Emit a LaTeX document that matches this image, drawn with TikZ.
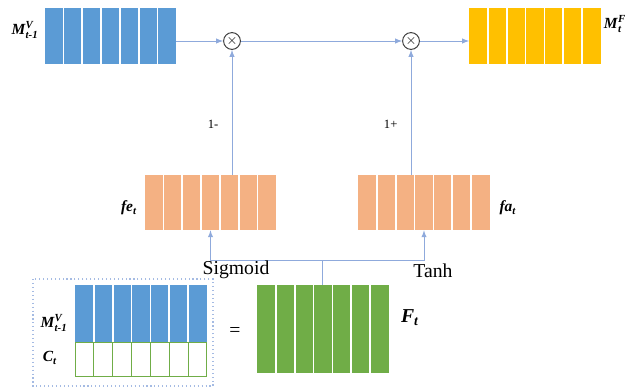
\documentclass[tikz,border=0pt]{standalone}
\usepackage{fontspec}
\setmainfont{Liberation Serif}
\usepackage{amsmath}
\usetikzlibrary{calc}

\definecolor{barblue}{HTML}{5B9BD5}
\definecolor{baryellow}{HTML}{FFC000}
\definecolor{barorange}{HTML}{F4B183}
\definecolor{bargreen}{HTML}{70AD47}
\definecolor{linkblue}{HTML}{8FAADC}
\definecolor{tipblue}{HTML}{4472C4}

\newcommand{\bi}[1]{\textbf{\textit{#1}}}
\newcommand{\cells}[2]{%
  \foreach \i in {1,...,6}
    \draw[#2, line width=1.2pt] ($(#1.north west)!\i/7!(#1.north east)$) -- ($(#1.south west)!\i/7!(#1.south east)$);}

\tikzset{
  bar/.style={rectangle, inner sep=0pt, minimum width=3.28cm, minimum height=1.4cm},
  link/.style={linkblue, line width=0.7pt},
  mult/.style={circle, draw=black!75, line width=0.7pt, fill=white, inner sep=0pt, minimum size=0.42cm},
  lbl/.style={font=\fontsize{11}{13}\selectfont, inner sep=1pt}
}

\begin{document}
\begin{tikzpicture}[x=0.025cm, y=-0.025cm, >={latex}]
  \useasboundingbox (0,0) rectangle (630,388);

  \node[bar, fill=barblue] (mprev) at (110.5,36) {};
  \node[bar, fill=baryellow] (mnext) at (535,36) {};
  \node[bar, fill=barorange, minimum height=1.375cm] (fe) at (210.5,202.5) {};
  \node[bar, fill=barorange, minimum height=1.375cm] (fa) at (424,202.5) {};
  \node[bar, fill=barblue, minimum height=1.43cm] (mlow) at (141,313.5) {};
  \node[bar, draw=bargreen, line width=1pt, fill=white, minimum height=0.85cm] (ct) at (141,359.5) {};
  \node[bar, fill=bargreen, minimum height=2.2cm] (ft) at (323,329) {};
  \cells{mprev}{white}
  \cells{mnext}{white}
  \cells{fe}{white}
  \cells{fa}{white}
  \cells{mlow}{white}
  \cells{ct}{bargreen}
  \cells{ft}{white}

  \draw[linkblue!80, line width=0.8pt, dotted] (33,279) rectangle (213,386);

  \node[mult] (c1) at (232,41) {$\times$};
  \node[mult] (c2) at (411,41) {$\times$};

  \coordinate (split) at (322,260);

  \draw[link, ->] (mprev.east |- c1) -- (c1);
  \draw[link, ->] (c1) -- (c2);
  \draw[link, ->] (c2) -- (mnext.west |- c2);
  \draw[link, ->] (c1 |- fe.north) -- node[pos=0.4, left=6pt, black, font=\small]{1-} (c1);
  \draw[link, ->] (c2 |- fa.north) -- node[pos=0.4, left=6pt, black, font=\small]{1+} (c2);
  \draw[link] (ft.north -| split) -- (split);
  \draw[link, ->] (split) -| (fe.south);
  \draw[link, ->] (split) -| (fa.south);

  \node[font=\fontsize{14}{16}\selectfont] (sig) at (236,270) {Sigmoid};
  \node[font=\fontsize{14}{16}\selectfont] (tanh) at (433,271) {Tanh};
  \node[font=\fontsize{14}{16}\selectfont] (eq) at (235,332) {=};

  \node[lbl] (lmprev) at (25,30) {\bi{M}$^{\bi{V}}_{\bi{t-1}}$};
  \node[lbl] (lmnext) at (615,24) {\bi{M}$^{\bi{F}}_{\bi{t}}$};
  \node[lbl] (lfe) at (129,208) {\bi{fe}$_{\bi{t}}$};
  \node[lbl] (lfa) at (508,208) {\bi{fa}$_{\bi{t}}$};
  \node[lbl] (lmlow) at (54,323) {\bi{M}$^{\bi{V}}_{\bi{t-1}}$};
  \node[lbl] (lct) at (50,358) {\bi{C}$_{\bi{t}}$};
  \node[font=\fontsize{14}{16}\selectfont] (lft) at (410,318) {\bi{F}$_{\bi{t}}$};
\end{tikzpicture}
\end{document}
